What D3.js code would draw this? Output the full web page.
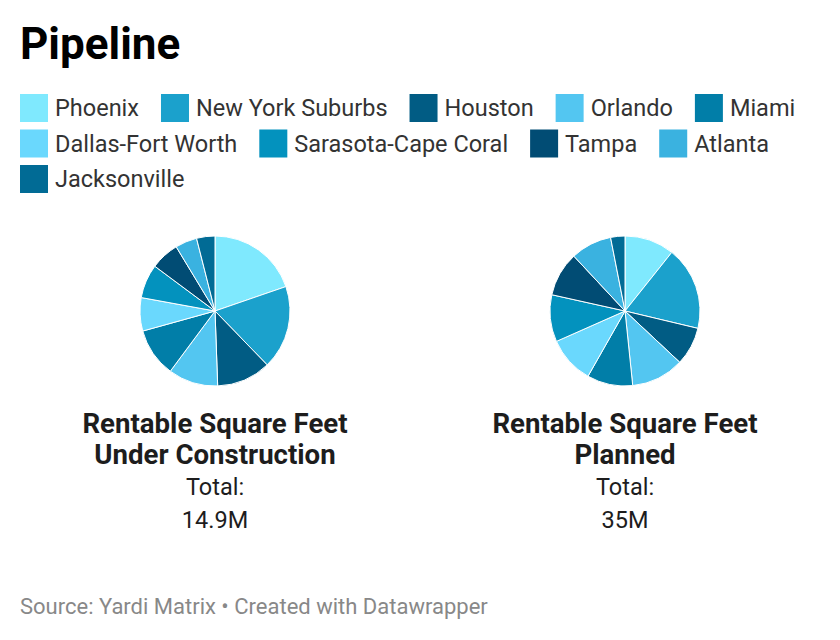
<!DOCTYPE html>
<html><head><meta charset="utf-8">
<script src="https://cdn.jsdelivr.net/npm/d3@7"></script>
<style>
html,body{margin:0;padding:0;background:#fff;}
svg{display:block;font-family:Roboto,"Noto Sans",sans-serif;}
</style></head>
<body>
<svg id="chart" width="840" height="640"></svg>
<script>
const cities = ["Phoenix","New York Suburbs","Houston","Orlando","Miami","Dallas-Fort Worth","Sarasota-Cape Coral","Tampa","Atlanta","Jacksonville"];
const colors = ["#7fe9fe","#1ba1cc","#015c84","#53c6f1","#017ea8","#6ad8fd","#0392be","#014c74","#3ab2e0","#016b95"];
const underConstruction = [2.94,2.69,1.74,1.60,1.57,1.07,1.09,0.92,0.70,0.59];
const planned = [3.75,6.30,2.89,3.98,3.45,3.55,3.54,3.35,3.10,1.08];
const pieTitles = [["Rentable Square Feet","Under Construction"],["Rentable Square Feet","Planned"]];
const totals = ["14.9M","35M"];

const svg = d3.select("#chart");
const color = d3.scaleOrdinal().domain(cities).range(colors);

svg.append("text").attr("x",20).attr("y",59).attr("font-size",44).attr("font-weight",700)
  .attr("fill","#000").text("Pipeline");

// legend (flow layout)
const legend = svg.append("g");
let lx = 20, ly = 94;
const rowH = 35.5, maxX = 805;
cities.forEach(c => {
  const g = legend.append("g");
  g.append("rect").attr("width",28).attr("height",28).attr("fill",color(c));
  const t = g.append("text").attr("x",35).attr("y",22).attr("font-size",23.5).attr("fill","#333").text(c);
  const w = 35 + t.node().getComputedTextLength();
  if (lx > 20 && lx + w > maxX) { lx = 20; ly += rowH; }
  g.attr("transform",`translate(${lx},${ly})`);
  lx += w + 22;
});

const pie = d3.pie().sort(null).value(d => d.v);
const arc = d3.arc().innerRadius(0).outerRadius(75);
[underConstruction, planned].forEach((vals, i) => {
  const cx = i === 0 ? 215 : 625;
  const g = svg.append("g").attr("transform",`translate(${cx},311)`);
  const data = cities.map((c,j) => ({c, v: vals[j]}));
  g.selectAll("path").data(pie(data)).join("path")
    .attr("d",arc).attr("fill",d => color(d.data.c))
    .attr("stroke","#fff").attr("stroke-width",1);
  const tg = svg.append("g").attr("transform",`translate(${cx},0)`).attr("text-anchor","middle");
  tg.append("text").attr("y",433).attr("font-size",27.6).attr("font-weight",700).attr("fill","#1d1d1d").text(pieTitles[i][0]);
  tg.append("text").attr("y",464).attr("font-size",27.6).attr("font-weight",700).attr("fill","#1d1d1d").text(pieTitles[i][1]);
  tg.append("text").attr("y",495).attr("font-size",23.5).attr("fill","#1d1d1d").text("Total:");
  tg.append("text").attr("y",528).attr("font-size",23.5).attr("fill","#1d1d1d").text(totals[i]);
});

svg.append("text").attr("x",20).attr("y",614).attr("font-size",22).attr("fill","#888")
  .text("Source: Yardi Matrix • Created with Datawrapper");
</script>
</body></html>
